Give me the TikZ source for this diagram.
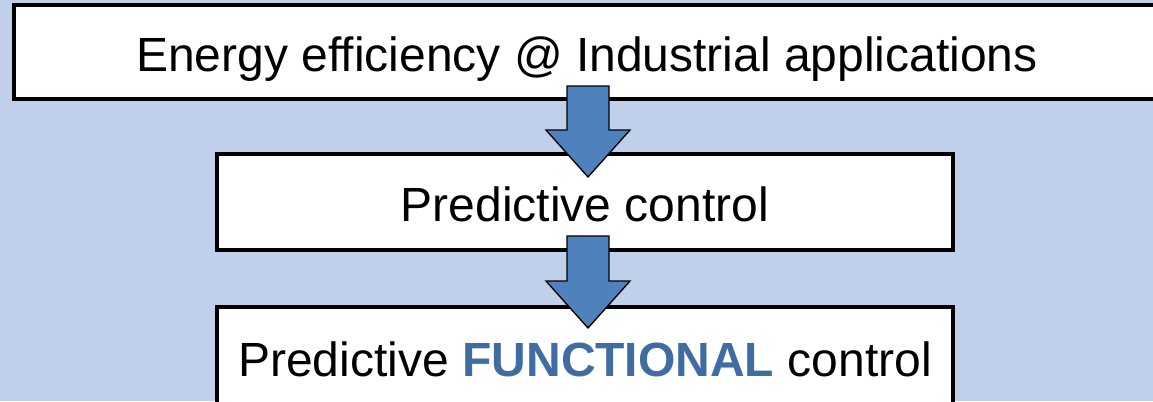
\documentclass[tikz,border=0pt]{standalone}
\usepackage{fontspec}
\setmainfont{Liberation Sans}
\usepackage{xcolor}
\usetikzlibrary{calc}

\definecolor{slidebg}{HTML}{C0D0EB}
\definecolor{arrowblue}{HTML}{4F81BD}
\definecolor{keyblue}{HTML}{3F6CA1}

\newcommand{\fatarrow}[2]{%
  \draw[fatarrow] ($(#1)+(-21,0)$) -- ($(#2)+(-21,-47)$) -- ($(#2)+(-42,-47)$) -- (#2)
    -- ($(#2)+(42,-47)$) -- ($(#2)+(21,-47)$) -- ($(#1)+(21,0)$) -- cycle;}

\begin{document}
\begin{tikzpicture}[x=0.75pt,y=-0.75pt,
    stage/.style={draw=black,line width=3pt,fill=white,inner sep=0pt,
      text height=29pt,text depth=0pt,font=\fontsize{36}{42}\selectfont},
    fatarrow/.style={draw=black,line width=1pt,fill=arrowblue,line join=miter}]
  \useasboundingbox (0,0) rectangle (1153,401);
  \clip (0,0) rectangle (1153,401);
  \fill[slidebg] (0,0) rectangle (1153,401);

  \node[stage,minimum width=860pt,minimum height=70.5pt] (energy) at (587,52) {Energy efficiency @ Industrial applications};
  \node[stage,minimum width=551.6pt,minimum height=72pt] (pc) at (585,202) {Predictive control};
  \node[stage,minimum width=551.6pt,minimum height=75pt] (pfc) at (585,357) {Predictive \textcolor{keyblue}{\textbf{FUNCTIONAL}} control};

  \coordinate (a1) at ($(energy.south)+(1,-15)$);
  \coordinate (t1) at ($(pc.north)+(3,25)$);
  \coordinate (a2) at ($(pc.south)+(3,-16)$);
  \coordinate (t2) at ($(pfc.north)+(3,23)$);
  \fatarrow{a1}{t1}
  \fatarrow{a2}{t2}
\end{tikzpicture}
\end{document}
